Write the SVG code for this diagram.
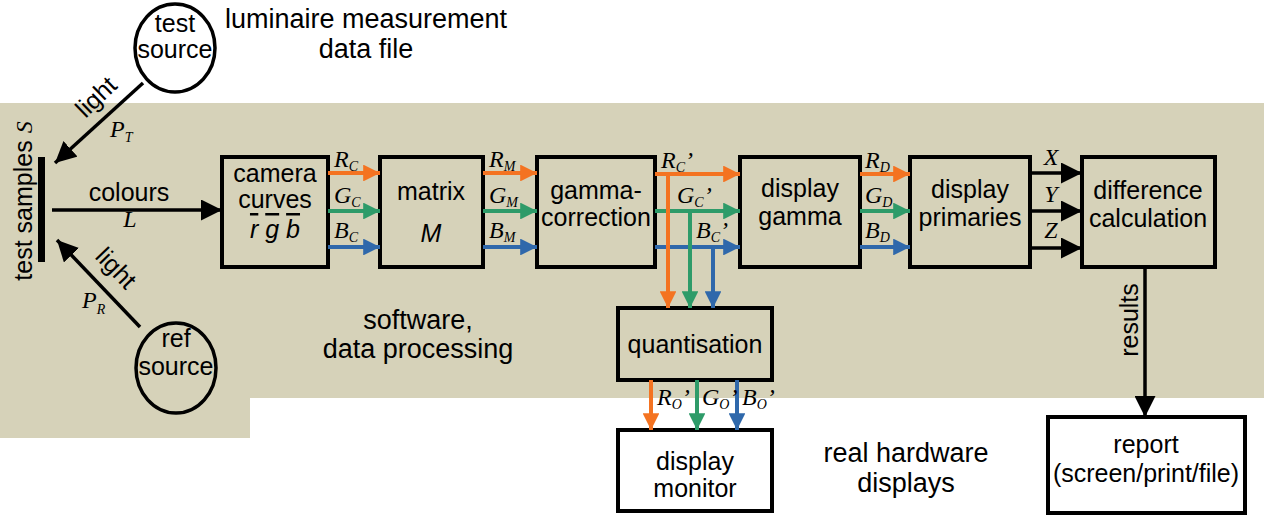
<svg xmlns="http://www.w3.org/2000/svg" width="1264" height="515" viewBox="0 0 1264 515">
<defs>
<style>
.t{font-family:"Liberation Sans",Arial,sans-serif;font-size:25px;fill:#000;text-anchor:middle}
.f{font-size:27px}
.i{font-family:"Liberation Serif","Times New Roman",serif;font-style:italic;font-size:24px;fill:#000}
.s{font-size:14px}
.box{fill:none;stroke:#000;stroke-width:4}
.wbox{fill:#fff;stroke:#000;stroke-width:4}
.k{stroke:#000;stroke-width:3.5;fill:none}
.r{stroke:#f47321;stroke-width:4;fill:none}
.g{stroke:#2e9b69;stroke-width:4;fill:none}
.b{stroke:#2f68ab;stroke-width:4;fill:none}
.ov{text-decoration:overline}
</style>
<marker id="ak" viewBox="0 0 10 10" refX="10" refY="5" markerWidth="6" markerHeight="6" markerUnits="strokeWidth" orient="auto"><path d="M0,0 L10,5 L0,10 z" fill="#000"/></marker>
<marker id="ar" viewBox="0 0 10 10" refX="10" refY="5" markerWidth="4.2" markerHeight="4.2" markerUnits="strokeWidth" orient="auto"><path d="M0,0 L10,5 L0,10 z" fill="#f47321"/></marker>
<marker id="ag" viewBox="0 0 10 10" refX="10" refY="5" markerWidth="4.2" markerHeight="4.2" markerUnits="strokeWidth" orient="auto"><path d="M0,0 L10,5 L0,10 z" fill="#2e9b69"/></marker>
<marker id="ab" viewBox="0 0 10 10" refX="10" refY="5" markerWidth="4.2" markerHeight="4.2" markerUnits="strokeWidth" orient="auto"><path d="M0,0 L10,5 L0,10 z" fill="#2f68ab"/></marker>
</defs>
<rect width="1264" height="515" fill="#fff"/>
<path d="M0,103 H1264 V398 H250 V438 H0 Z" fill="#d6d2b9"/>

<g id="labels">
<text class="t f" x="366" y="28">luminaire measurement</text>
<text class="t f" x="366" y="58">data file</text>
<text class="t f" x="418" y="329">software,</text>
<text class="t f" x="418" y="358">data processing</text>
<text class="t f" x="906" y="462">real hardware</text>
<text class="t f" x="906" y="492">displays</text>
</g>

<g id="test-source">
<ellipse cx="175" cy="48" rx="40" ry="44" fill="#fff" stroke="#000" stroke-width="3.5"/>
<text class="t" x="175" y="32">test</text>
<text class="t" x="175" y="58">source</text>
</g>
<g id="ref-source">
<ellipse cx="176" cy="368" rx="40" ry="45" fill="none" stroke="#000" stroke-width="3.5"/>
<text class="t" x="176" y="347">ref</text>
<text class="t" x="176" y="375">source</text>
</g>
<g id="test-samples">
<rect x="38" y="157" width="7" height="105" fill="#000"/>
<text class="t" transform="translate(32,201) rotate(-90)">test samples <tspan class="i" font-size="26">S</tspan></text>
</g>

<g id="camera-curves">
<rect class="box" x="222" y="157" width="106" height="110"/>
<text class="t" x="275" y="182">camera</text>
<text class="t" x="275" y="208">curves</text>
<text class="t" x="275" y="238" font-style="italic"><tspan class="ov">r</tspan> <tspan class="ov">g</tspan> <tspan class="ov">b</tspan></text>
</g>
<g id="matrix">
<rect class="box" x="380" y="157" width="103" height="110"/>
<text class="t" x="431" y="200">matrix</text>
<text class="t" x="431" y="242" font-style="italic">M</text>
</g>
<g id="gamma-correction">
<rect class="box" x="537" y="157" width="118" height="110"/>
<text class="t" x="596" y="199">gamma-</text>
<text class="t" x="596" y="226">correction</text>
</g>
<g id="display-gamma">
<rect class="box" x="740" y="157" width="120" height="110"/>
<text class="t" x="800" y="197">display</text>
<text class="t" x="800" y="225">gamma</text>
</g>
<g id="display-primaries">
<rect class="box" x="910" y="157" width="120" height="110"/>
<text class="t" x="970" y="198">display</text>
<text class="t" x="970" y="226">primaries</text>
</g>
<g id="difference-calculation">
<rect class="box" x="1082" y="157" width="133" height="110"/>
<text class="t" x="1148" y="199">difference</text>
<text class="t" x="1148" y="227">calculation</text>
</g>
<g id="quantisation">
<rect class="box" x="618" y="308" width="154" height="72"/>
<text class="t" x="695" y="353">quantisation</text>
</g>
<g id="display-monitor">
<rect class="wbox" x="618" y="430" width="154" height="81"/>
<text class="t" x="695" y="470">display</text>
<text class="t" x="695" y="497">monitor</text>
</g>
<g id="report">
<rect class="wbox" x="1048" y="417" width="197" height="96"/>
<text class="t" x="1146" y="453">report</text>
<text class="t" x="1146" y="482">(screen/print/file)</text>
</g>

<g id="connectors">
<line class="k" x1="143" y1="83" x2="55" y2="163" marker-end="url(#ak)"/>
<line class="k" x1="140" y1="327" x2="57" y2="240" marker-end="url(#ak)"/>
<line class="k" x1="52" y1="210" x2="222" y2="210" marker-end="url(#ak)"/>

<line class="r" x1="328" y1="173" x2="380" y2="173" marker-end="url(#ar)"/>
<line class="g" x1="328" y1="211" x2="380" y2="211" marker-end="url(#ag)"/>
<line class="b" x1="328" y1="247" x2="380" y2="247" marker-end="url(#ab)"/>
<line class="r" x1="483" y1="173" x2="537" y2="173" marker-end="url(#ar)"/>
<line class="g" x1="483" y1="211" x2="537" y2="211" marker-end="url(#ag)"/>
<line class="b" x1="483" y1="247" x2="537" y2="247" marker-end="url(#ab)"/>
<line class="r" x1="655" y1="174" x2="740" y2="174" marker-end="url(#ar)"/>
<line class="g" x1="655" y1="211" x2="740" y2="211" marker-end="url(#ag)"/>
<line class="b" x1="655" y1="247" x2="740" y2="247" marker-end="url(#ab)"/>
<line class="r" x1="668" y1="174" x2="668" y2="308" marker-end="url(#ar)"/>
<line class="g" x1="690" y1="211" x2="690" y2="308" marker-end="url(#ag)"/>
<line class="b" x1="713" y1="247" x2="713" y2="308" marker-end="url(#ab)"/>
<line class="r" x1="860" y1="174" x2="910" y2="174" marker-end="url(#ar)"/>
<line class="g" x1="860" y1="211" x2="910" y2="211" marker-end="url(#ag)"/>
<line class="b" x1="860" y1="247" x2="910" y2="247" marker-end="url(#ab)"/>
<line class="r" x1="651" y1="380" x2="651" y2="430" marker-end="url(#ar)"/>
<line class="g" x1="697" y1="380" x2="697" y2="430" marker-end="url(#ag)"/>
<line class="b" x1="737" y1="380" x2="737" y2="430" marker-end="url(#ab)"/>

<line class="k" x1="1030" y1="173" x2="1082" y2="173" marker-end="url(#ak)"/>
<line class="k" x1="1030" y1="211" x2="1082" y2="211" marker-end="url(#ak)"/>
<line class="k" x1="1030" y1="248" x2="1082" y2="248" marker-end="url(#ak)"/>
<line class="k" x1="1145" y1="267" x2="1145" y2="417" marker-end="url(#ak)"/>

<text class="t" transform="translate(102,103) rotate(-44)">light</text>
<text class="i" x="110" y="137">P<tspan class="s" dy="5">T</tspan></text>
<text class="t" transform="translate(110,274) rotate(46)">light</text>
<text class="i" x="82" y="308">P<tspan class="s" dy="6">R</tspan></text>
<text class="t" x="129" y="201">colours</text>
<text class="i" x="130" y="227" text-anchor="middle">L</text>
<text class="t" transform="translate(1138,320) rotate(-90)">results</text>

<text class="i" x="334" y="167">R<tspan class="s" dy="4">C</tspan></text>
<text class="i" x="334" y="203">G<tspan class="s" dy="4">C</tspan></text>
<text class="i" x="334" y="238">B<tspan class="s" dy="4">C</tspan></text>
<text class="i" x="489" y="167">R<tspan class="s" dy="4">M</tspan></text>
<text class="i" x="489" y="203">G<tspan class="s" dy="4">M</tspan></text>
<text class="i" x="489" y="238">B<tspan class="s" dy="4">M</tspan></text>
<text class="i" x="661" y="168">R<tspan class="s" dy="4">C</tspan><tspan dy="-4">’</tspan></text>
<text class="i" x="677" y="203">G<tspan class="s" dy="4">C</tspan><tspan dy="-4">’</tspan></text>
<text class="i" x="696" y="238">B<tspan class="s" dy="4">C</tspan><tspan dy="-4">’</tspan></text>
<text class="i" x="865" y="168">R<tspan class="s" dy="4">D</tspan></text>
<text class="i" x="865" y="203">G<tspan class="s" dy="4">D</tspan></text>
<text class="i" x="865" y="238">B<tspan class="s" dy="4">D</tspan></text>
<text class="i" x="1051" y="165" text-anchor="middle">X</text>
<text class="i" x="1051" y="202" text-anchor="middle">Y</text>
<text class="i" x="1051" y="238" text-anchor="middle">Z</text>
<text class="i" x="657" y="405">R<tspan class="s" dy="4">O</tspan><tspan dy="-4">’</tspan></text>
<text class="i" x="702" y="405">G<tspan class="s" dy="4">O</tspan><tspan dy="-4">’</tspan></text>
<text class="i" x="742" y="405">B<tspan class="s" dy="4">O</tspan><tspan dy="-4">’</tspan></text>
</g>
</svg>
